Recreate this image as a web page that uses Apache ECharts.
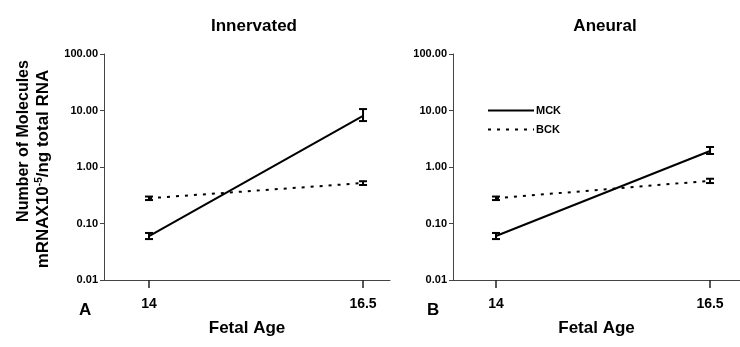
<!DOCTYPE html>
<html><head><meta charset="utf-8">
<script src="https://cdn.jsdelivr.net/npm/echarts@6/dist/echarts.min.js"></script>
<style>html,body{margin:0;padding:0;background:#fff}#c{width:740px;height:347px}</style>
</head><body><div id="c"></div>
<script>
const ages = [14, 16.5];
const xTickLabels = ['14', '16.5'];
const yTickLabels = ['0.01', '0.10', '1.00', '10.00', '100.00'];
// Innervated
const innMCK = [0.06, 8.0];
const innMCKLow = [0.053, 6.5];
const innMCKHigh = [0.068, 10.6];
const innBCK = [0.28, 0.52];
const innBCKLow = [0.26, 0.48];
const innBCKHigh = [0.30, 0.56];
// Aneural
const aneMCK = [0.06, 1.92];
const aneMCKLow = [0.053, 1.70];
const aneMCKHigh = [0.068, 2.26];
const aneBCK = [0.28, 0.57];
const aneBCKLow = [0.26, 0.52];
const aneBCKHigh = [0.30, 0.62];

const FONT = '"Liberation Sans", Arial, sans-serif';
const chart = echarts.init(document.getElementById('c'));

function pairs(v){ return ages.map((a,i)=>[a, v[i]]); }
function errData(lo, hi){ return ages.map((a,i)=>[a, lo[i], hi[i]]); }
function errSeries(lo, hi, idx){
  return {
    type: 'custom', xAxisIndex: idx, yAxisIndex: idx, silent: true, z: 5,
    data: errData(lo, hi),
    renderItem: function(params, api){
      const x = api.value(0);
      const p1 = api.coord([x, api.value(1)]);
      const p2 = api.coord([x, api.value(2)]);
      const w = 4;
      const st = {stroke: '#000', lineWidth: 2};
      return {type: 'group', children: [
        {type: 'line', shape: {x1: p1[0], y1: p1[1], x2: p2[0], y2: p2[1]}, style: st},
        {type: 'line', shape: {x1: p1[0]-w, y1: p1[1], x2: p1[0]+w, y2: p1[1]}, style: st},
        {type: 'line', shape: {x1: p2[0]-w, y1: p2[1], x2: p2[0]+w, y2: p2[1]}, style: st}
      ]};
    }
  };
}
function lineSeries(name, vals, idx, dotted){
  return {
    name: name, type: 'line', xAxisIndex: idx, yAxisIndex: idx,
    data: pairs(vals), symbol: 'none', z: 4,
    lineStyle: {color: '#000', width: 2, type: dotted ? [3, 6] : 'solid'},
    itemStyle: {color: '#000'}
  };
}
function xAxis(idx, min, max){
  return {
    type: 'value', gridIndex: idx, min: min, max: max,
    name: 'Fetal Age', nameLocation: 'middle', nameGap: 40,
    nameTextStyle: {fontFamily: FONT, fontWeight: 'bold', fontSize: 17, color: '#000'},
    splitLine: {show: false},
    axisLine: {lineStyle: {color: '#444', width: 1}},
    axisTick: {show: true, length: 8, inside: false, customValues: ages, lineStyle: {color: '#222', width: 1.5}},
    axisLabel: {customValues: ages, margin: 17, fontFamily: FONT, fontWeight: 'bold', fontSize: 14, color: '#000',
      formatter: v => xTickLabels[ages.indexOf(v)] || ''}
  };
}
function yAxis(idx){
  return {
    type: 'log', logBase: 10, gridIndex: idx, min: 0.01, max: 100,
    splitLine: {show: false},
    axisLine: {show: true, lineStyle: {color: '#444', width: 1}},
    axisTick: {show: true, length: 4, lineStyle: {color: '#444'}},
    minorTick: {show: false},
    axisLabel: {margin: 6, fontFamily: FONT, fontWeight: 'bold', fontSize: 11, color: '#000',
      formatter: v => { const l = Math.round(Math.log10(v)) + 2; return yTickLabels[l] || ''; }}
  };
}

chart.setOption({
  animation: false,
  backgroundColor: '#fff',
  title: [
    {text: 'Innervated', left: 249, top: 13, textAlign: 'center',
      textStyle: {fontFamily: FONT, fontWeight: 'bold', fontSize: 17, color: '#000'}},
    {text: 'Aneural', left: 600, top: 13, textAlign: 'center',
      textStyle: {fontFamily: FONT, fontWeight: 'bold', fontSize: 17, color: '#000'}}
  ],
  grid: [
    {left: 104, right: 350, top: 54, bottom: 67},
    {left: 453, right: 0, top: 54, bottom: 67}
  ],
  xAxis: [xAxis(0, 13.474, 16.815), xAxis(1, 13.498, 16.85)],
  yAxis: [yAxis(0), yAxis(1)],
  legend: {
    data: ['MCK', 'BCK'], orient: 'vertical', left: 487, top: 105, itemGap: 8, padding: 0,
    itemWidth: 46, itemHeight: 10,
    itemStyle: {opacity: 0},
    textStyle: {fontFamily: FONT, fontWeight: 'bold', fontSize: 11, color: '#000', padding: [0,0,0,-3]},
    selectedMode: false
  },
  graphic: [
    {type: 'text', left: 79, top: 302, style: {text: 'A', font: 'bold 17px ' + FONT, fill: '#000'}},
    {type: 'text', left: 427, top: 302, style: {text: 'B', font: 'bold 17px ' + FONT, fill: '#000'}},
    {type: 'text', x: 24, y: 141, rotation: Math.PI / 2,
      style: {text: 'Number of Molecules', align: 'center', verticalAlign: 'middle',
        font: 'bold 16px ' + FONT, fill: '#000'}},
    {type: 'text', x: 43, y: 169, rotation: Math.PI / 2,
      style: {
        text: '{n|mRNAX10}{s|-5}{n|/ng total RNA}',
        align: 'center', verticalAlign: 'middle',
        font: 'bold 17px ' + FONT, fill: '#000',
        rich: {
          n: {fontFamily: FONT, fontWeight: 'bold', fontSize: 17, fill: '#000'},
          s: {fontFamily: FONT, fontWeight: 'bold', fontSize: 10, fill: '#000', verticalAlign: 'top', padding: [0,0,7,0]}
        }
      }}
  ],
  series: [
    lineSeries('MCK', innMCK, 0, false),
    lineSeries('BCK', innBCK, 0, true),
    errSeries(innMCKLow, innMCKHigh, 0),
    errSeries(innBCKLow, innBCKHigh, 0),
    lineSeries('MCK', aneMCK, 1, false),
    lineSeries('BCK', aneBCK, 1, true),
    errSeries(aneMCKLow, aneMCKHigh, 1),
    errSeries(aneBCKLow, aneBCKHigh, 1)
  ]
});
</script></body></html>
